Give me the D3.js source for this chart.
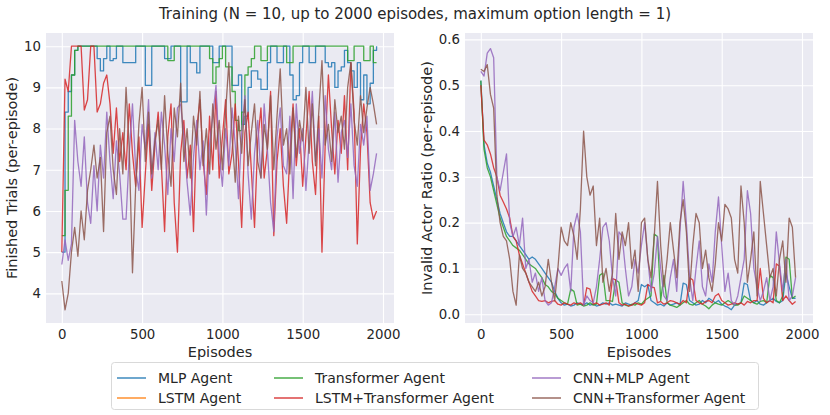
<!DOCTYPE html>
<html>
<head>
<meta charset="utf-8">
<script src="https://cdn.jsdelivr.net/npm/d3@7"></script>
<style>
  body { margin: 0; background: #fff; }
  svg { font-family: "DejaVu Sans", sans-serif; }
</style>
</head>
<body>
<svg id="chart" width="830" height="415"></svg>
<script>
// episodes sampled every 20
const episodes = d3.range(0, 1961, 20);

const agentNames = ['MLP Agent', 'LSTM Agent', 'Transformer Agent', 'LSTM+Transformer Agent', 'CNN+MLP Agent', 'CNN+Transformer Agent'];
const agentColors = ['#1f77b4', '#ff7f0e', '#2ca02c', '#d62728', '#9467bd', '#8c564b'];

// left panel: finished trials
const trialsMLP = [
  5.0, 8.4, 8.9, 9.3, 9.9, 10, 10, 10, 10, 10,
  10, 9.7, 9.4, 9.7, 10, 9.65, 9.7, 10, 10, 9.6,
  9.6, 9.6, 9.6, 10, 10, 10, 9.05, 9.05, 10, 10,
  10, 10, 9.7, 9.7, 10, 10, 10, 8.65, 8.65, 10,
  9.6, 9.6, 9.35, 10, 10, 10, 10, 9.6, 9.6, 10,
  10, 10, 10, 9.05, 9.05, 9.3, 8.1, 8.3, 9.0, 9.4,
  9.4, 9.2, 8.95, 8.95, 9.6, 10, 10, 9.6, 9.6, 10,
  10, 9.3, 8.7, 8.8, 9.6, 10, 10, 9.6, 9.6, 10,
  10, 10, 9.6, 9.5, 9.6, 9.0, 9.4, 9.5, 9.9, 9.6,
  9.4, 9.0, 9.6, 8.7, 9.3, 8.6, 9.1, 9.9, 10
];
const trialsLSTM = [];
const trialsTransformer = [
  5.4, 6.5, 8.3, 9.3, 9.9, 10, 10, 10, 10, 10,
  10, 10, 10, 10, 10, 10, 10, 10, 10, 10,
  10, 10, 10, 10, 10, 10, 10, 10, 10, 10,
  10, 10, 10, 9.65, 9.65, 10, 10, 10, 10, 10,
  10, 10, 10, 10, 10, 10, 9.7, 9.1, 9.5, 9.7,
  10, 9.5, 9.5, 8.9, 8.2, 7.95, 8.4, 9.3, 9.5, 9.7,
  10, 10, 9.65, 9.65, 10, 10, 10, 10, 10, 10,
  9.6, 9.6, 10, 10, 10, 10, 10, 10, 10, 10,
  10, 10, 10, 10, 10, 10, 10, 10, 10, 9.65,
  9.65, 10, 10, 10, 9.65, 9.65, 10, 9.6, 9.6
];
const trialsLSTMTransformer = [
  5.0, 9.2, 8.9, 10, 10, 10, 10, 8.45, 8.7, 10,
  10, 8.4, 8.6, 9.1, 9.3, 8.6, 7.4, 8.5, 7.2, 7.9,
  7.0, 8.6, 7.4, 6.6, 7.8, 5.6, 6.9, 8.1, 6.5, 7.6,
  8.4, 7.1, 5.5, 7.8, 8.6, 6.2, 5.0, 7.4, 8.2, 6.8,
  7.6, 5.5, 8.0, 8.7, 7.2, 6.4, 8.3, 7.0, 8.9, 6.8,
  7.8, 8.7, 6.9, 7.4, 8.6, 7.2, 5.6, 7.9, 8.4, 7.0,
  5.6, 7.7, 8.5, 6.8, 7.5, 8.9, 5.4, 7.2, 8.0, 6.6,
  5.7, 7.4, 8.6, 7.1, 8.0, 6.6, 7.8, 8.9, 7.2, 6.4,
  8.3, 5.0, 7.6, 9.3, 8.0, 6.9, 8.2, 7.4, 8.8, 7.0,
  9.6, 8.4, 5.2, 7.5, 8.6, 7.9, 6.2, 5.8, 6.0
];
const trialsCNNMLP = [
  4.7, 5.3, 4.8, 5.2, 8.2, 7.2, 6.6, 7.8, 6.2, 5.7,
  7.1, 6.0, 7.6, 6.8, 8.4, 7.2, 6.3, 7.7, 6.9, 5.8,
  5.8, 7.4, 8.6, 7.0, 6.5, 8.1, 7.5, 8.7, 6.8, 7.9,
  7.0, 8.4, 7.6, 6.4, 8.0, 7.2, 8.5, 8.6, 7.8, 6.7,
  5.9, 7.3, 8.2, 7.0, 7.7, 5.9, 7.6, 8.3, 9.05, 7.4,
  6.6, 8.0, 7.1, 8.5, 7.6, 6.3, 7.9, 8.8, 6.9, 5.8,
  7.4, 8.2, 6.8, 8.6, 7.5, 6.2, 5.5, 7.8, 8.5, 7.1,
  6.9, 8.3, 6.3, 8.6, 7.4, 8.0, 6.5, 7.7, 8.9, 7.2,
  8.0, 6.8, 8.8, 7.5, 7.0, 8.4, 6.7, 7.9, 8.2, 7.3,
  8.6, 7.1, 6.6, 8.1, 7.6, 8.3, 6.5, 6.9, 7.4
];
const trialsCNNTransformer = [
  4.3, 3.6, 4.0, 5.0, 5.6, 4.9, 6.0, 5.3, 6.5, 7.0,
  7.6, 6.8, 7.3, 5.5, 7.9, 8.3, 7.0, 6.4, 8.0, 6.9,
  9.0, 7.5, 4.5, 6.6, 8.1, 9.0, 7.2, 8.4, 6.9, 7.7,
  8.2, 7.0, 8.8, 7.4, 6.6, 8.5, 7.8, 9.1, 7.2, 8.0,
  6.8, 8.3, 7.6, 8.9, 7.1, 8.0, 6.9, 8.6, 7.5, 8.2,
  7.0, 8.4, 9.6, 7.8, 6.7, 8.3, 7.4, 8.7, 7.1, 7.9,
  8.6, 7.2, 6.8, 8.1, 7.5, 8.8, 7.0, 8.3, 9.45, 7.6,
  8.0, 6.9, 8.5, 7.3, 8.2, 7.7, 9.0, 7.4, 8.6, 7.1,
  8.4, 9.65, 7.6, 8.1, 7.2, 8.7, 7.9, 8.3, 7.5, 9.0,
  9.6, 8.2, 7.6, 8.8, 7.9, 8.5, 9.0, 8.6, 8.1
];

// right panel: invalid actor ratio
const invalidMLP = [
  0.51, 0.37, 0.33, 0.31, 0.28, 0.25, 0.22, 0.20, 0.18, 0.17,
  0.17, 0.16, 0.15, 0.14, 0.13, 0.12, 0.125, 0.12, 0.11, 0.10,
  0.09, 0.08, 0.07, 0.05, 0.035, 0.025, 0.02, 0.022, 0.018, 0.02,
  0.025, 0.022, 0.02, 0.025, 0.02, 0.022, 0.018, 0.02, 0.025, 0.022,
  0.025, 0.02, 0.022, 0.02, 0.018, 0.025, 0.022, 0.02, 0.025, 0.03,
  0.065, 0.06, 0.065, 0.03, 0.025, 0.02, 0.022, 0.018, 0.025, 0.02,
  0.022, 0.025, 0.02, 0.068, 0.065, 0.03, 0.025, 0.02, 0.022, 0.03,
  0.025, 0.035, 0.03, 0.025, 0.03, 0.022, 0.018, 0.015, 0.01, 0.02,
  0.022, 0.025, 0.068, 0.065, 0.03, 0.025, 0.03, 0.022, 0.02, 0.025,
  0.03, 0.035, 0.028, 0.025, 0.03, 0.09, 0.06, 0.035, 0.035
];
const invalidLSTM = [];
const invalidTransformer = [
  0.51, 0.36, 0.32, 0.30, 0.27, 0.24, 0.21, 0.19, 0.17, 0.16,
  0.15, 0.145, 0.14, 0.13, 0.12, 0.11, 0.105, 0.10, 0.09, 0.08,
  0.065, 0.06, 0.05, 0.045, 0.035, 0.03, 0.025, 0.022, 0.055, 0.05,
  0.02, 0.022, 0.018, 0.02, 0.025, 0.02, 0.022, 0.085, 0.09, 0.03,
  0.03, 0.028, 0.075, 0.07, 0.025, 0.02, 0.018, 0.022, 0.02, 0.025,
  0.022, 0.03, 0.035, 0.04, 0.175, 0.17, 0.03, 0.085, 0.025, 0.02,
  0.018, 0.015, 0.02, 0.025, 0.03, 0.022, 0.02, 0.025, 0.03, 0.022,
  0.018, 0.012, 0.02, 0.025, 0.022, 0.02, 0.025, 0.03, 0.025, 0.02,
  0.02, 0.025, 0.04, 0.035, 0.03, 0.025, 0.022, 0.028, 0.03, 0.025,
  0.085, 0.08, 0.03, 0.025, 0.04, 0.125, 0.12, 0.035, 0.04
];
const invalidLSTMTransformer = [
  0.50, 0.38, 0.37, 0.35, 0.32, 0.30, 0.26, 0.245, 0.23, 0.21,
  0.17, 0.16, 0.13, 0.11, 0.09, 0.07, 0.05, 0.04, 0.03, 0.028,
  0.03, 0.025, 0.028, 0.03, 0.022, 0.02, 0.025, 0.022, 0.02, 0.025,
  0.022, 0.025, 0.02, 0.058, 0.055, 0.022, 0.025, 0.02, 0.022, 0.025,
  0.02, 0.078, 0.075, 0.025, 0.02, 0.022, 0.018, 0.02, 0.025, 0.022,
  0.02, 0.025, 0.065, 0.06, 0.058, 0.025, 0.028, 0.022, 0.025, 0.03,
  0.028, 0.025, 0.022, 0.03, 0.025, 0.08, 0.075, 0.03, 0.025, 0.022,
  0.028, 0.03, 0.025, 0.04, 0.045, 0.03, 0.025, 0.02, 0.022, 0.025,
  0.022, 0.025, 0.02, 0.028, 0.025, 0.03, 0.03, 0.1, 0.035, 0.025,
  0.03, 0.025, 0.11, 0.105, 0.03, 0.04, 0.03, 0.022, 0.028
];
const invalidCNNMLP = [
  0.53, 0.52, 0.57, 0.58, 0.56, 0.30, 0.27, 0.31, 0.35, 0.20,
  0.17, 0.19, 0.15, 0.21, 0.10, 0.12, 0.07, 0.09, 0.05, 0.08,
  0.03, 0.02, 0.025, 0.06, 0.10, 0.085, 0.10, 0.11, 0.05, 0.19,
  0.22, 0.18, 0.02, 0.04, 0.03, 0.025, 0.06, 0.12, 0.19, 0.20,
  0.16, 0.08, 0.04, 0.18, 0.17, 0.10, 0.04, 0.06, 0.12, 0.09,
  0.15, 0.20, 0.12, 0.05, 0.09, 0.17, 0.10, 0.04, 0.03, 0.08,
  0.12, 0.05, 0.18, 0.29, 0.20, 0.08, 0.03, 0.10, 0.16, 0.06,
  0.04, 0.11, 0.07, 0.18, 0.256, 0.15, 0.05, 0.09, 0.03, 0.02,
  0.04, 0.08, 0.12, 0.27, 0.22, 0.10, 0.06, 0.03, 0.05, 0.08,
  0.03, 0.06, 0.18, 0.11, 0.05, 0.12, 0.03, 0.04, 0.08
];
const invalidCNNTransformer = [
  0.535, 0.53, 0.545, 0.48, 0.45, 0.26, 0.20, 0.17, 0.16, 0.12,
  0.05, 0.02, 0.13, 0.10, 0.09, 0.07, 0.06, 0.05, 0.07, 0.04,
  0.06, 0.12, 0.07, 0.03, 0.10, 0.19, 0.16, 0.15, 0.20, 0.17,
  0.12, 0.23, 0.40, 0.30, 0.26, 0.28, 0.15, 0.21, 0.07, 0.10,
  0.05, 0.09, 0.22, 0.12, 0.18, 0.15, 0.20, 0.10, 0.14, 0.05,
  0.20, 0.21, 0.12, 0.08, 0.17, 0.29, 0.15, 0.06, 0.12, 0.20,
  0.14, 0.08, 0.20, 0.25, 0.18, 0.05, 0.15, 0.22, 0.20, 0.10,
  0.14, 0.08, 0.05, 0.11, 0.20, 0.16, 0.24, 0.23, 0.21, 0.12,
  0.09, 0.28, 0.20, 0.07, 0.12, 0.18, 0.04, 0.29, 0.22, 0.15,
  0.08, 0.10, 0.04, 0.12, 0.16, 0.07, 0.21, 0.19, 0.08
];

const xTicks = [0, 500, 1000, 1500, 2000];
const trialsTicks = [4, 5, 6, 7, 8, 9, 10];
const invalidTicks = [0.0, 0.1, 0.2, 0.3, 0.4, 0.5, 0.6];

const panels = [
  {
    left: 46, right: 394, yLabel: 'Finished Trials (per-episode)', labelX: 17,
    yDomain: [3.28, 10.32], ticks: trialsTicks, fmt: d3.format('d'),
    series: [trialsMLP, trialsLSTM, trialsTransformer, trialsLSTMTransformer, trialsCNNMLP, trialsCNNTransformer],
    // the near-ceiling series read as plateaus, so draw them as steps
    curves: [d3.curveStepAfter, d3.curveLinear, d3.curveStepAfter, d3.curveLinear, d3.curveLinear, d3.curveLinear]
  },
  {
    left: 465, right: 813, yLabel: 'Invalid Actor Ratio (per-episode)', labelX: 432,
    yDomain: [-0.019, 0.614], ticks: invalidTicks, fmt: d3.format('.1f'),
    series: [invalidMLP, invalidLSTM, invalidTransformer, invalidLSTMTransformer, invalidCNNMLP, invalidCNNTransformer],
    curves: [d3.curveLinear, d3.curveLinear, d3.curveLinear, d3.curveLinear, d3.curveLinear, d3.curveLinear]
  }
];

const plotTop = 33, plotBottom = 323;
const svg = d3.select('#chart');
const textColor = '#262626';

svg.append('text')
  .attr('x', 415).attr('y', 19)
  .attr('text-anchor', 'middle')
  .attr('font-size', 15)
  .attr('fill', textColor)
  .text('Training (N = 10, up to 2000 episodes, maximum option length = 1)');

panels.forEach(p => {
  const x = d3.scaleLinear().domain([-98.5, 2068.5]).range([p.left, p.right]);
  const y = d3.scaleLinear().domain(p.yDomain).range([plotBottom, plotTop]);
  const g = svg.append('g');

  g.append('rect')
    .attr('x', p.left).attr('y', plotTop)
    .attr('width', p.right - p.left).attr('height', plotBottom - plotTop)
    .attr('fill', '#eaeaf2');

  // grid + tick labels
  const xAxis = g.append('g')
    .attr('transform', `translate(0,${plotBottom})`)
    .call(d3.axisBottom(x).tickValues(xTicks).tickFormat(d3.format('d')).tickSize(-(plotBottom - plotTop)).tickPadding(7));
  const yAxis = g.append('g')
    .attr('transform', `translate(${p.left},0)`)
    .call(d3.axisLeft(y).tickValues(p.ticks).tickFormat(p.fmt).tickSize(-(p.right - p.left)).tickPadding(5));

  [xAxis, yAxis].forEach(a => {
    a.select('.domain').remove();
    a.selectAll('.tick line').attr('stroke', '#fff').attr('stroke-width', 1.1);
    a.selectAll('.tick text')
      .attr('fill', textColor)
      .attr('font-size', 13.3)
      .attr('font-family', '"DejaVu Sans", sans-serif');
  });

  const clipId = 'clip' + p.left;
  g.append('clipPath').attr('id', clipId)
    .append('rect')
    .attr('x', p.left).attr('y', plotTop)
    .attr('width', p.right - p.left).attr('height', plotBottom - plotTop);

  g.append('g')
    .attr('clip-path', `url(#${clipId})`)
    .selectAll('path')
    .data(p.series.map((s, i) => ({ values: s, color: agentColors[i], curve: p.curves[i] })).filter(s => s.values.length))
    .enter()
    .append('path')
    .attr('d', s => d3.line()
      .curve(s.curve)
      .x((d, i) => x(episodes[i]))
      .y(d => y(d))(s.values))
    .attr('fill', 'none')
    .attr('stroke', s => s.color)
    .attr('stroke-width', 1.3)
    .attr('stroke-opacity', 0.85)
    .attr('stroke-linejoin', 'round');

  g.append('text')
    .attr('x', (p.left + p.right) / 2).attr('y', 357)
    .attr('text-anchor', 'middle')
    .attr('font-size', 14.5)
    .attr('fill', textColor)
    .text('Episodes');

  g.append('text')
    .attr('transform', `translate(${p.labelX},${(plotTop + plotBottom) / 2}) rotate(-90)`)
    .attr('text-anchor', 'middle')
    .attr('font-size', 14.5)
    .attr('fill', textColor)
    .text(p.yLabel);
});

// legend, 3 columns x 2 rows
const legend = svg.append('g');
legend.append('rect')
  .attr('x', 111.5).attr('y', 362.5)
  .attr('width', 647).attr('height', 47)
  .attr('rx', 3)
  .attr('fill', '#fff')
  .attr('stroke', '#d9d9d9')
  .attr('stroke-width', 1);

const colX = [117, 274, 532];
const rowY = [378, 398];
agentNames.forEach((name, i) => {
  const cx = colX[Math.floor(i / 2)];
  const cy = rowY[i % 2];
  legend.append('line')
    .attr('x1', cx).attr('x2', cx + 29)
    .attr('y1', cy).attr('y2', cy)
    .attr('stroke', agentColors[i])
    .attr('stroke-width', 1.3);
  legend.append('text')
    .attr('x', cx + 41).attr('y', cy)
    .attr('dy', '0.35em')
    .attr('font-size', 14)
    .attr('fill', textColor)
    .text(name);
});
</script>
</body>
</html>
